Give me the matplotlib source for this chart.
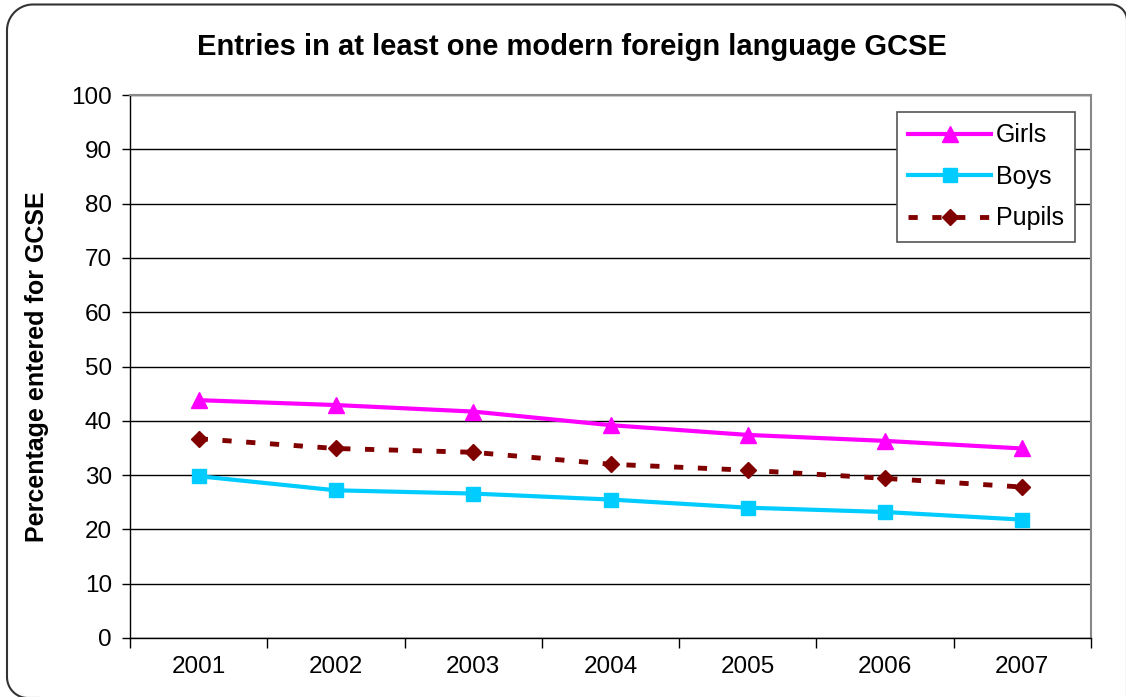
import numpy as np
import matplotlib.pyplot as plt
from matplotlib.lines import Line2D

# values
years = ['2001', '2002', '2003', '2004', '2005', '2006', '2007']
girls = [43.8, 42.9, 41.7, 39.2, 37.4, 36.3, 34.9]
boys = [29.8, 27.2, 26.6, 25.5, 24.0, 23.2, 21.8]
pupils = [36.7, 34.9, 34.2, 32.0, 30.9, 29.4, 27.8]

plt.rcParams['font.family'] = ['Liberation Sans', 'DejaVu Sans']

W, H = 1126, 697
fig = plt.figure(figsize=(W/100, H/100), dpi=100)
ax = fig.add_axes([130/W, 1-638/H, (1091-130)/W, (638-95)/H])


def corner(cx, cy, r, t0, t1):
    t = np.radians(np.linspace(t0, t1, 30))
    return list(cx + r*np.cos(t)), list(cy + r*np.sin(t))


# outer rounded frame (pixel coords, y up), runs off the right and bottom edges
top = H - 4.5
bx, by = corner(7 + 21, 20, 21, 270, 180)
lx, ly = corner(7 + 26, top - 26, 26, 180, 90)
rx, ry = corner(1111, top - 16, 16, 90, 0)
fx = [40] + bx + lx + rx + [1127]
fy = [-1] + by + ly + ry + [0]
fig.lines.append(Line2D(fx, fy, transform=None, color='#333333', lw=1.5))

x = np.arange(len(years))
ax.plot(x, girls, color='#FF00FF', lw=3, marker='^', ms=11, label='Girls', zorder=3)
ax.plot(x, boys, color='#00CCFF', lw=3, marker='s', ms=9.5, label='Boys', zorder=3)
ax.plot(x, pupils, color='#800000', lw=3.5, marker='D', ms=8.5, dashes=(1.9, 3.0),
        label='Pupils', zorder=3)

ax.set_xlim(-0.5, 6.5)
ax.set_ylim(0, 100)
ax.set_yticks(range(0, 101, 10))
ax.set_xticks(x)
ax.set_xticklabels(years)
ax.set_xticks(np.arange(-0.5, 7, 1), minor=True)
ax.tick_params(axis='x', which='major', length=0, pad=13, labelsize=17.5)
ax.tick_params(axis='x', which='minor', length=7, width=1, direction='out')
ax.tick_params(axis='y', length=6, width=1, pad=7, labelsize=17.5)
ax.yaxis.grid(True, color='black', linewidth=1)
ax.set_axisbelow(True)

for side in ['top', 'right']:
    ax.spines[side].set_color('#888888')
    ax.spines[side].set_linewidth(1.5)
for side in ['left', 'bottom']:
    ax.spines[side].set_color('black')
    ax.spines[side].set_linewidth(1)

ax.set_ylabel('Percentage entered for GCSE', fontsize=18, fontweight='bold', labelpad=16)
fig.text(572/W, 1-47/H, 'Entries in at least one modern foreign language GCSE',
         ha='center', va='center', fontsize=21, fontweight='bold')

leg = ax.legend(loc='upper right', bbox_to_anchor=(1075/W, 1-112/H),
                bbox_transform=fig.transFigure, fontsize=18, fancybox=False,
                framealpha=1, edgecolor='#555555', handlelength=3.3,
                borderpad=0.45, labelspacing=0.7, handletextpad=0.2,
                borderaxespad=0)
leg.get_frame().set_linewidth(1.2)

fig.savefig('out.png', dpi=100)
